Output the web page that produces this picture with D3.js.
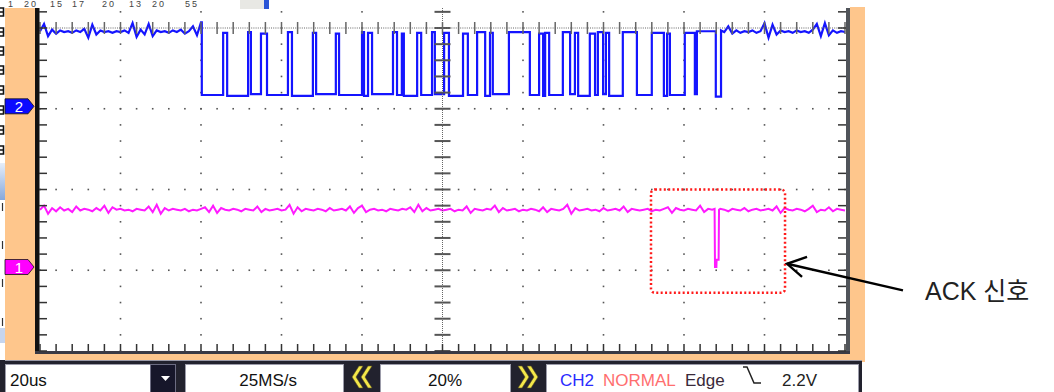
<!DOCTYPE html>
<html>
<head>
<meta charset="utf-8">
<script src="https://cdn.jsdelivr.net/npm/d3@7"></script>
<style>
body { margin: 0; background: #fff; }
svg { display: block; }
text { font-family: "Liberation Sans", Arial, sans-serif; }
</style>
</head>
<body>
<svg id="scope" width="1054" height="392"></svg>
<script>
// CH2 (blue) idle high before the burst, one sample per us, t = 0..40
const blueIdleStart = [
  3.96, 4.05, 3.90, 3.98, 3.93, 3.97, 3.95, 3.96, 3.94, 3.97,
  3.95, 3.99, 3.88, 4.04, 3.92, 3.97, 3.95, 3.96, 3.94, 3.96,
  3.95, 3.97, 3.94, 4.06, 3.89, 3.98, 3.92, 4.05, 3.90, 3.97,
  3.95, 3.96, 3.94, 3.97, 3.95, 3.98, 3.93, 3.96, 4.02, 3.91,
  4.07
];
// burst edges (us) and level after each edge (div)
const blueEdges = [
  40.2,
  45.5, 46.5, 51.7, 52.4, 54.9, 56.4, 61.6, 62.6, 67.8, 68.6,
  73.5, 74.3, 80.0, 80.5, 81.5, 82.5, 87.7, 88.7, 89.9, 90.4,
  93.7, 94.7, 97.4, 98.1, 100.4, 101.6, 105.1, 106.3, 108.6, 110.6,
  111.8, 112.5, 116.5, 121.7, 124.0, 125.0, 125.5, 126.5, 129.9, 131.7,
  132.9, 133.7, 136.6, 137.9, 138.6, 139.9, 140.6, 141.4, 144.8, 148.3,
  152.0, 155.0, 155.8, 156.5, 160.2, 162.7, 163.2, 167.9,
  169.2
];
const blueLevels = [
  3.17,
  3.94, 3.16, 3.95, 3.18, 3.93, 3.17, 3.95, 3.16, 3.94, 3.18,
  3.93, 3.17, 3.95, 3.16, 3.94, 3.18, 3.95, 3.17, 3.93, 3.16,
  3.94, 3.17, 3.95, 3.18, 3.94, 3.16, 3.93, 3.17, 3.95, 3.16,
  3.94, 3.18, 3.95, 3.17, 3.93, 3.16, 3.94, 3.17, 3.95, 3.18,
  3.94, 3.16, 3.93, 3.17, 3.95, 3.18, 3.94, 3.16, 3.95, 3.17,
  3.94, 3.16, 3.93, 3.17, 3.94, 3.18, 3.96, 3.15,
  3.97
];
// CH2 idle high after the burst, t = 170..200
const blueIdleEnd = [
  3.95, 4.02, 3.93, 3.97, 3.94, 3.96, 3.95, 3.97, 3.94, 3.96,
  4.06, 3.88, 4.04, 3.92, 3.97, 3.95, 3.96, 3.94, 3.97, 3.95,
  3.96, 3.94, 3.98, 4.05, 3.90, 4.06, 3.91, 3.97, 3.94, 3.96,
  3.95
];
// CH1 (magenta), one sample per us, t = 0..200
const pinkSamples = [
  1.75, 1.80, 1.70, 1.77, 1.73, 1.78, 1.74, 1.76, 1.72, 1.79,
  1.74, 1.76, 1.75, 1.73, 1.77, 1.74, 1.80, 1.71, 1.78, 1.75,
  1.76, 1.74, 1.75, 1.73, 1.76, 1.75, 1.74, 1.79, 1.72, 1.81,
  1.70, 1.77, 1.74, 1.76, 1.75, 1.74, 1.76, 1.73, 1.75, 1.74,
  1.76, 1.78, 1.72, 1.80, 1.71, 1.77, 1.75, 1.74, 1.76, 1.75,
  1.73, 1.76, 1.75, 1.74, 1.79, 1.72, 1.76, 1.74, 1.75, 1.76,
  1.74, 1.75, 1.81, 1.70, 1.78, 1.73, 1.76, 1.75, 1.74, 1.76,
  1.75, 1.73, 1.77, 1.74, 1.75, 1.76, 1.74, 1.79, 1.71, 1.77,
  1.80, 1.72, 1.75, 1.76, 1.74, 1.75, 1.73, 1.76, 1.75, 1.74,
  1.76, 1.75, 1.78, 1.72, 1.81, 1.73, 1.77, 1.74, 1.75, 1.76,
  1.74, 1.75, 1.76, 1.73, 1.75, 1.74, 1.79, 1.71, 1.76, 1.75,
  1.74, 1.76, 1.75, 1.80, 1.72, 1.77, 1.74, 1.75, 1.76, 1.73,
  1.75, 1.74, 1.76, 1.75, 1.73, 1.78, 1.72, 1.76, 1.75, 1.74,
  1.76, 1.81, 1.70, 1.77, 1.74, 1.75, 1.76, 1.74, 1.75, 1.73,
  1.77, 1.74, 1.75, 1.76, 1.74, 1.79, 1.72, 1.76, 1.75, 1.74,
  1.75, 1.76, 1.73, 1.75, 1.74, 1.76, 1.78, 1.71, 1.77, 1.75,
  1.74, 1.76, 1.75, 1.74, 1.80, 1.72, 1.76, 1.75, 1.74, 1.76,
  1.75, 1.73, 1.76, 1.75, 1.74, 1.77, 1.73, 1.75, 1.76, 1.74,
  1.75, 1.76, 1.74, 1.79, 1.71, 1.77, 1.75, 1.74, 1.76, 1.75,
  1.73, 1.76, 1.80, 1.72, 1.75, 1.74, 1.78, 1.73, 1.76, 1.75,
  1.74
];
// the ACK pulse on CH1 [us, div]
const pinkSpike = [[167.6, 1.76], [167.7, 1.04], [168.05, 1.04], [168.1, 1.13], [168.6, 1.13], [168.7, 1.75]];

const markerLabels = ["2", "1"];
const markerLevels = [3.03, 1.04];
const markerColors = ["#0a0aff", "#ff00ff"];

const ackBoxTime = [151.8, 185.1];
const ackBoxLevel = [0.72, 2.0];
const ackArrowTime = [185.6, 214.4];
const ackArrowLevel = [1.08, 0.75];
const ackLabel = "ACK 신호";

const statusLabels = ["20us", "25MS/s", "20%", "CH2", "NORMAL", "Edge", "2.2V"];
const topTokens = ["1", "20", "15", "17", "20", "13", "20", "55"];

const svg = d3.select("#scope");
const x = d3.scaleLinear().domain([0, 200]).range([40, 845]);
const y = d3.scaleLinear().domain([0, 4]).range([351, 28]);
const xMinor = d3.range(0, 51).map(i => i * 4);
const yMinor = d3.range(0, 22).map(i => +(i * 0.2).toFixed(1));

const defs = svg.append("defs");
defs.append("clipPath").attr("id", "plot").append("rect").attr("x", 39).attr("y", 8).attr("width", 807).attr("height", 343);
const grad = defs.append("linearGradient").attr("id", "bluegrad").attr("x1", 0).attr("y1", 0).attr("x2", 0).attr("y2", 1);
grad.append("stop").attr("offset", 0).attr("stop-color", "#e6eef9");
grad.append("stop").attr("offset", 1).attr("stop-color", "#86a8dc");

// stray bits of the window behind, at the left edge
const edge = svg.append("g").attr("fill", "none").attr("stroke", "#111").attr("stroke-width", 1.6);
[12, 32, 51, 70, 90, 110, 130, 150].forEach(yy => {
  edge.append("path").attr("d", `M0,${yy - 4}H3.5V${yy + 4}H0M0,${yy}H3`);
});
[207, 245, 283, 322].forEach(yy => {
  edge.append("path").attr("d", `M2.5,${yy - 4}V${yy + 4}`).attr("stroke", "#333").attr("stroke-width", 1.2);
});
svg.append("rect").attr("x", 0).attr("y", 163).attr("width", 5).attr("height", 37).attr("fill", "url(#bluegrad)");
svg.append("rect").attr("x", 0).attr("y", 328).attr("width", 5).attr("height", 15).attr("fill", "#c6d5ee");
svg.append("rect").attr("x", 0).attr("y", 362).attr("width", 5).attr("height", 30).attr("fill", "#e4ecf8");

svg.selectAll(".tok").data(topTokens).join("text")
  .attr("x", (d, i) => [8, 24, 50, 72, 102, 129, 152, 185][i])
  .attr("y", 7).attr("font-size", 9).attr("fill", "#444").attr("letter-spacing", 2).text(d => d);
svg.append("rect").attr("x", 240).attr("y", 0).attr("width", 24).attr("height", 9).attr("fill", "#e8e8e4");
svg.append("rect").attr("x", 264).attr("y", 0).attr("width", 5).attr("height", 9).attr("fill", "#2a55d6");

// frame panels
const orange = "#fec68c";
svg.append("rect").attr("x", 5).attr("y", 8).attr("width", 30).attr("height", 352).attr("fill", orange);
svg.append("rect").attr("x", 850).attr("y", 7).attr("width", 15).attr("height", 355).attr("fill", orange);
svg.append("rect").attr("x", 5).attr("y", 353).attr("width", 860).attr("height", 7).attr("fill", orange);

// grid dots
const grid = svg.append("g").attr("fill", "#555");
[1, 2, 3].forEach(v => {
  xMinor.forEach(t => grid.append("rect").attr("x", x(t) - 0.8).attr("y", y(v) - 0.8).attr("width", 1.6).attr("height", 1.6));
});
[20, 40, 60, 80, 120, 140, 160, 180].forEach(t => {
  yMinor.forEach(v => grid.append("rect").attr("x", x(t) - 0.8).attr("y", y(v) - 0.8).attr("width", 1.6).attr("height", 1.6));
});

// traces
const bluePts = blueIdleStart.map((v, i) => [i, v]);
let prev = blueIdleStart[blueIdleStart.length - 1];
blueEdges.forEach((t, i) => {
  bluePts.push([t, prev]);
  bluePts.push([t, blueLevels[i]]);
  prev = blueLevels[i];
});
blueIdleEnd.forEach((v, i) => bluePts.push([170 + i, v]));

const spikeStart = pinkSpike[0][0], spikeEnd = pinkSpike[pinkSpike.length - 1][0];
const pinkPts = pinkSamples.map((v, i) => [i, v])
  .filter(d => d[0] < spikeStart || d[0] > spikeEnd)
  .concat(pinkSpike)
  .sort((a, b) => a[0] - b[0]);

const line = d3.line().x(d => x(d[0])).y(d => y(d[1]));
const traces = svg.append("g").attr("clip-path", "url(#plot)").attr("fill", "none");
traces.append("path").datum(pinkPts).attr("d", line).attr("stroke", "#ff1aff").attr("stroke-width", 2);
traces.append("path").datum(bluePts).attr("d", line).attr("stroke", "#1414ff").attr("stroke-width", 2.2);

// center axes
svg.append("line").attr("x1", x(100)).attr("x2", x(100)).attr("y1", 8).attr("y2", y(0))
  .attr("stroke", "#666").attr("stroke-dasharray", "1,1");
yMinor.forEach(v => svg.append("line").attr("x1", x(100) - 8).attr("x2", x(100) + 8).attr("y1", y(v)).attr("y2", y(v))
  .attr("stroke", "#555").attr("stroke-width", 2));
svg.append("line").attr("x1", x(0)).attr("x2", x(200)).attr("y1", y(4)).attr("y2", y(4))
  .attr("stroke", "#666").attr("stroke-dasharray", "1,1.2");
xMinor.forEach(t => svg.append("line").attr("x1", x(t)).attr("x2", x(t)).attr("y1", y(4) - 6).attr("y2", y(4) + 6)
  .attr("stroke", "#666").attr("stroke-width", 1.5));

// borders with ticks
svg.append("rect").attr("x", 35).attr("y", 8).attr("width", 4.5).attr("height", 346).attr("fill", "#111");
svg.append("rect").attr("x", 846).attr("y", 8).attr("width", 4).attr("height", 346).attr("fill", "#50545a");
svg.append("rect").attr("x", 35).attr("y", 351).attr("width", 815).attr("height", 3).attr("fill", "#3a3a44");
const ticks = svg.append("g").attr("stroke", "#333").attr("stroke-width", 1.5);
yMinor.forEach(v => {
  ticks.append("line").attr("x1", 39).attr("x2", 47).attr("y1", y(v)).attr("y2", y(v));
  ticks.append("line").attr("x1", 838).attr("x2", 846).attr("y1", y(v)).attr("y2", y(v));
});
xMinor.forEach(t => ticks.append("line").attr("x1", x(t)).attr("x2", x(t)).attr("y1", 344).attr("y2", 351));

// channel markers
markerLevels.forEach((v, i) => {
  const cy = y(v);
  svg.append("path")
    .attr("d", `M5,${cy - 7.5}H28L34,${cy}L28,${cy + 7.5}H5Z`)
    .attr("fill", markerColors[i]).attr("stroke", "#111").attr("stroke-width", 0.8);
  svg.append("text").attr("x", 19).attr("y", cy + 5.5).attr("text-anchor", "middle")
    .attr("font-size", 15).attr("fill", "#fff").text(markerLabels[i]);
});

// ACK annotation
svg.append("rect")
  .attr("x", x(ackBoxTime[0])).attr("y", y(ackBoxLevel[1]))
  .attr("width", x(ackBoxTime[1]) - x(ackBoxTime[0])).attr("height", y(ackBoxLevel[0]) - y(ackBoxLevel[1]))
  .attr("rx", 4).attr("fill", "none").attr("stroke", "#ff1a1a").attr("stroke-width", 2.5).attr("stroke-dasharray", "2,2.4");
const tipX = x(ackArrowTime[0]), tipY = y(ackArrowLevel[0]);
svg.append("line").attr("x1", x(ackArrowTime[1])).attr("y1", y(ackArrowLevel[1])).attr("x2", tipX).attr("y2", tipY)
  .attr("stroke", "#000").attr("stroke-width", 2.4);
svg.append("path").attr("d", `M${tipX + 20},${tipY - 7}L${tipX},${tipY}L${tipX + 15},${tipY + 13}`)
  .attr("fill", "none").attr("stroke", "#000").attr("stroke-width", 2.4);
svg.append("text").attr("x", 925).attr("y", 300)
  .attr("font-size", 25).attr("fill", "#222")
  .style("font-family", "\"Liberation Sans\", \"Noto Sans CJK KR\", sans-serif")
  .text(ackLabel);

// status bar
svg.append("rect").attr("x", 0).attr("y", 360).attr("width", 862).attr("height", 32).attr("fill", "#22222e");
svg.append("line").attr("x1", 5).attr("x2", 862).attr("y1", 360.5).attr("y2", 360.5).attr("stroke", "#9a9aa8");
[[5, 145], [185, 158], [380, 130], [546, 312]].forEach(b => {
  svg.append("rect").attr("x", b[0] + 0.5).attr("y", 364.5).attr("width", b[1]).attr("height", 28)
    .attr("fill", "#fff").attr("stroke", "#9c9caa");
});
svg.append("rect").attr("x", 150.5).attr("y", 364.5).attr("width", 25).attr("height", 28).attr("fill", "#16162a").attr("stroke", "#6c6c82");
svg.append("path").attr("d", "M161,376H170L165.5,381Z").attr("fill", "#fff");
[353, 362].forEach(x0 => {
  svg.append("path").attr("d", `M${x0 + 10},366L${x0 + 3},377L${x0 + 10},388H${x0 + 6}L${x0 - 1},377L${x0 + 6},366Z`)
    .attr("fill", "#f4e84a").attr("stroke", "#5a5020").attr("stroke-width", 0.6);
});
[518, 527].forEach(x0 => {
  svg.append("path").attr("d", `M${x0},366L${x0 + 7},377L${x0},388H${x0 + 4}L${x0 + 11},377L${x0 + 4},366Z`)
    .attr("fill", "#f4e84a").attr("stroke", "#5a5020").attr("stroke-width", 0.6);
});
const statusX = [10, 297, 428, 560, 603, 685, 782];
const statusAnchor = ["start", "end", "start", "start", "start", "start", "start"];
const statusColor = ["#111", "#111", "#111", "#2a2aff", "#ff6e6e", "#3a2a3a", "#222"];
svg.selectAll(".st").data(statusLabels).join("text")
  .attr("x", (d, i) => statusX[i]).attr("y", 386)
  .attr("text-anchor", (d, i) => statusAnchor[i])
  .attr("font-size", 17).attr("fill", (d, i) => statusColor[i]).text(d => d);
svg.append("path").attr("d", "M743,367H747L754,383H761").attr("fill", "none").attr("stroke", "#222").attr("stroke-width", 1.5);
</script>
</body>
</html>
